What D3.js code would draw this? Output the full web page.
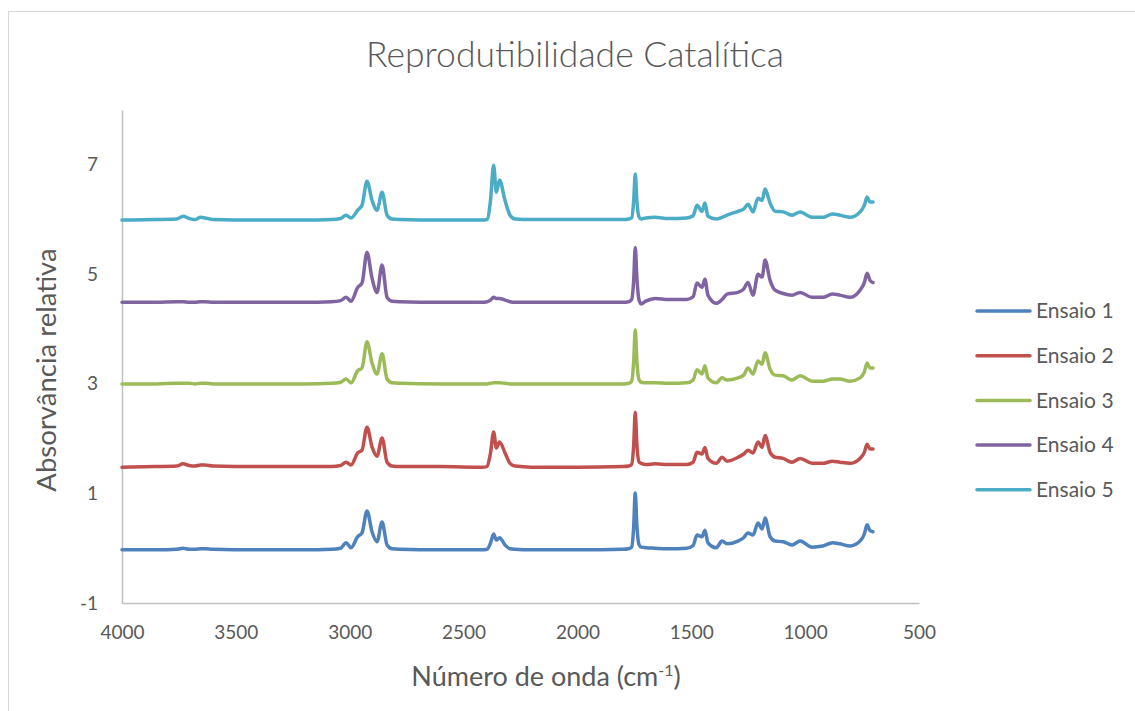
<!DOCTYPE html>
<html>
<head>
<meta charset="utf-8">
<script src="https://cdn.jsdelivr.net/npm/d3@7"></script>
<style>
  body { margin: 0; background: #fff; }
  text { font-family: Lato, "Open Sans", sans-serif; fill: #595959; }
</style>
</head>
<body>
<div id="container"></div>
<script>
/* CONSTANTS AND GLOBALS */
const width = 1135,
  height = 711,
  margin = { top: 110, bottom: 108, left: 122, right: 216 };

/* DATA */
const seriesNames = ["Ensaio 1", "Ensaio 2", "Ensaio 3", "Ensaio 4", "Ensaio 5"];
const colors = ["#4F81BD", "#C0504D", "#9BBB59", "#8064A2", "#4BACC6"];
const offsets = [-0.03, 1.48, 3.0, 4.49, 5.99]; // vertical stacking of each run
const xTicks = [4000, 3500, 3000, 2500, 2000, 1500, 1000, 500];
const yTicks = [-1, 1, 3, 5, 7];

const wavenumbers = [4000, 3850, 3760, 3732, 3705, 3680, 3655, 3636, 3600, 3400,
  3200, 3080, 3040, 3016, 2994, 2965, 2946, 2924, 2902, 2880,
  2858, 2836, 2814, 2780, 2600, 2420, 2397, 2382, 2368, 2356,
  2342, 2318, 2296, 2274, 2200, 2000, 1800, 1775, 1762, 1753,
  1746, 1739, 1730, 1720, 1700, 1659, 1600, 1520, 1492, 1475,
  1453, 1440, 1427, 1390, 1365, 1343, 1295, 1270, 1251, 1229,
  1207, 1189, 1176, 1154, 1132, 1097, 1058, 1022, 970, 922,
  880, 847, 803, 759, 740, 728, 715, 702];

const ensaio1 = [0, 0, 0.01, 0.03, 0.01, 0.01, 0.02, 0.02, 0.01, 0,
  0, 0.01, 0.03, 0.13, 0.04, 0.24, 0.31, 0.71, 0.33, 0.15,
  0.51, 0.09, 0.02, 0.01, 0, 0, 0.01, 0.12, 0.29, 0.18,
  0.22, 0.09, 0.02, 0.01, 0, 0, 0.01, 0.02, 0.05, 0.42,
  1.04, 0.45, 0.1, 0.05, 0.04, 0.03, 0.02, 0.03, 0.08, 0.27,
  0.24, 0.36, 0.13, 0.04, 0.16, 0.11, 0.16, 0.22, 0.31, 0.27,
  0.49, 0.38, 0.58, 0.24, 0.16, 0.15, 0.09, 0.16, 0.05, 0.07,
  0.13, 0.11, 0.07, 0.16, 0.29, 0.46, 0.35, 0.33];

const ensaio2 = [0, 0.01, 0.02, 0.06, 0.03, 0.02, 0.04, 0.04, 0.02, 0.01,
  0.01, 0.01, 0.03, 0.09, 0.04, 0.26, 0.31, 0.73, 0.37, 0.2,
  0.53, 0.09, 0.02, 0.01, 0.01, 0, 0.01, 0.25, 0.64, 0.35,
  0.46, 0.26, 0.07, 0.02, 0, 0, 0.01, 0.02, 0.05, 0.4,
  1.0, 0.42, 0.1, 0.07, 0.05, 0.06, 0.05, 0.05, 0.09, 0.27,
  0.24, 0.36, 0.16, 0.07, 0.18, 0.11, 0.18, 0.24, 0.31, 0.26,
  0.46, 0.36, 0.58, 0.27, 0.18, 0.16, 0.09, 0.16, 0.07, 0.07,
  0.11, 0.09, 0.07, 0.16, 0.27, 0.42, 0.33, 0.33];

const ensaio3 = [0, 0, 0.01, 0.01, 0.01, 0, 0.01, 0.01, 0, 0,
  0, 0.01, 0.03, 0.09, 0.02, 0.24, 0.29, 0.77, 0.38, 0.18,
  0.55, 0.09, 0.02, 0.01, 0, 0, 0, 0.01, 0.02, 0.02,
  0.02, 0.01, 0, 0, 0, 0, 0, 0.01, 0.05, 0.4,
  0.99, 0.42, 0.08, 0.03, 0.02, 0.02, 0.01, 0.02, 0.07, 0.26,
  0.18, 0.33, 0.11, 0.02, 0.11, 0.07, 0.11, 0.16, 0.29, 0.18,
  0.42, 0.36, 0.57, 0.27, 0.16, 0.15, 0.07, 0.15, 0.05, 0.05,
  0.09, 0.09, 0.05, 0.11, 0.22, 0.38, 0.29, 0.29];

const ensaio4 = [0, 0, 0.01, 0.01, 0, 0, 0.01, 0.01, 0, 0,
  0, 0.01, 0.03, 0.09, 0.02, 0.27, 0.35, 0.91, 0.44, 0.18,
  0.68, 0.09, 0.02, 0.01, 0, 0, 0.01, 0.04, 0.09, 0.07,
  0.07, 0.04, 0.01, 0, 0, 0, 0, 0.01, 0.05, 0.4,
  1.0, 0.45, 0.05, -0.03, 0.02, 0.07, 0.05, 0.05, 0.1, 0.35,
  0.27, 0.42, 0.13, -0.02, 0.05, 0.15, 0.18, 0.24, 0.36, 0.13,
  0.51, 0.46, 0.77, 0.4, 0.22, 0.16, 0.13, 0.18, 0.09, 0.09,
  0.15, 0.13, 0.09, 0.22, 0.36, 0.53, 0.4, 0.36];

const ensaio5 = [0, 0.01, 0.02, 0.07, 0.03, 0.01, 0.05, 0.04, 0.01, 0,
  0, 0.01, 0.03, 0.09, 0.04, 0.18, 0.27, 0.71, 0.36, 0.18,
  0.51, 0.09, 0.02, 0.01, 0, 0, 0.01, 0.35, 1.0, 0.51,
  0.73, 0.36, 0.09, 0.02, 0.01, 0.01, 0.01, 0.02, 0.04, 0.35,
  0.84, 0.35, 0.06, 0.02, 0.04, 0.05, 0.03, 0.04, 0.08, 0.27,
  0.16, 0.31, 0.07, 0.02, 0.05, 0.09, 0.16, 0.2, 0.29, 0.15,
  0.4, 0.36, 0.57, 0.31, 0.16, 0.15, 0.09, 0.15, 0.05, 0.05,
  0.11, 0.09, 0.05, 0.15, 0.27, 0.42, 0.33, 0.33];

const allRuns = [ensaio1, ensaio2, ensaio3, ensaio4, ensaio5];

/* SVG */
const svg = d3.select("#container")
  .append("svg")
  .attr("width", width)
  .attr("height", height);

svg.append("rect")
  .attr("width", width).attr("height", height)
  .attr("fill", "#fff");

// chart area border (right/bottom fall outside the picture)
svg.append("rect")
  .attr("x", 8.5).attr("y", 11.5)
  .attr("width", width + 20).attr("height", height + 20)
  .attr("fill", "none")
  .attr("stroke", "#d9d9d9")
  .attr("stroke-width", 1);

/* SCALES */
const xScale = d3.scaleLinear()
  .domain([4000, 500])
  .range([margin.left, width - margin.right]);

const yScale = d3.scaleLinear()
  .domain([-1, 8])
  .range([height - margin.bottom, margin.top]);

/* AXES */
const xAxis = d3.axisBottom(xScale)
  .tickValues(xTicks)
  .tickSize(0)
  .tickPadding(23)
  .tickFormat(d => String(d));

const yAxis = d3.axisLeft(yScale)
  .tickValues(yTicks)
  .tickSize(0)
  .tickPadding(24)
  .tickFormat(d => String(d)); // plain hyphen for -1, as in the original

svg.append("g")
  .attr("transform", `translate(0, ${height - margin.bottom})`)
  .call(xAxis);

svg.append("g")
  .attr("transform", `translate(${margin.left}, 0)`)
  .call(yAxis);

svg.selectAll(".domain")
  .attr("stroke", "#bfbfbf")
  .attr("stroke-width", 1.5);

svg.selectAll(".tick text")
  .attr("font-size", "19px")
  .style("fill", "#595959");

/* LINES */
const line = d3.line()
  .x((d, i) => xScale(wavenumbers[i]))
  .y(d => yScale(d))
  .curve(d3.curveMonotoneX);

svg.selectAll("path.run")
  .data(allRuns.map((run, k) => run.map(v => v + offsets[k])))
  .join("path")
  .attr("class", "run")
  .attr("fill", "none")
  .attr("stroke", (d, k) => colors[k])
  .attr("stroke-width", 3.5)
  .attr("stroke-linejoin", "round")
  .attr("stroke-linecap", "round")
  .attr("d", line);

/* TITLES */
svg.append("text")
  .attr("x", 575)
  .attr("y", 67)
  .attr("text-anchor", "middle")
  .style("font-size", "35.5px")
  .style("font-weight", 300)
  .text("Reprodutibilidade Catalítica");

const xTitle = svg.append("text")
  .attr("x", 546)
  .attr("y", 686)
  .attr("text-anchor", "middle")
  .style("font-size", "27px");
xTitle.append("tspan").text("Número de onda (cm");
xTitle.append("tspan").attr("dy", -10).style("font-size", "16px").text("-1");
xTitle.append("tspan").attr("dy", 10).text(")");

svg.append("text")
  .attr("transform", "rotate(-90)")
  .attr("x", -370)
  .attr("y", 56)
  .attr("text-anchor", "middle")
  .style("font-size", "27.5px")
  .text("Absorvância relativa");

/* LEGEND */
const legend = svg.append("g")
  .selectAll("g")
  .data(seriesNames)
  .join("g")
  .attr("transform", (d, i) => `translate(977, ${311 + i * 44.7})`);

legend.append("line")
  .attr("x1", 0).attr("x2", 53)
  .attr("stroke", (d, i) => colors[i])
  .attr("stroke-width", 3.5)
  .attr("stroke-linecap", "round");

legend.append("text")
  .attr("x", 59)
  .attr("dy", "0.35em")
  .style("font-size", "21px")
  .text(d => d);
</script>
</body>
</html>
